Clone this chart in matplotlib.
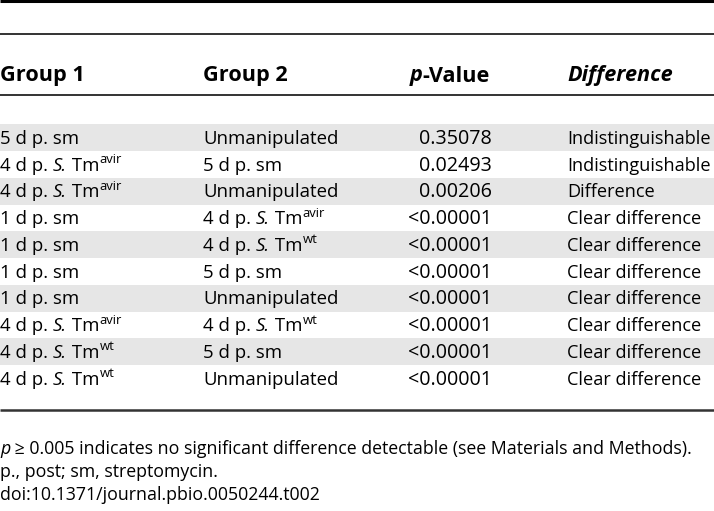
import re
import matplotlib
matplotlib.use("Agg")
import matplotlib.pyplot as plt
from matplotlib import font_manager

# ---------------- data ----------------
group1 = ["5 d p. sm", "4 d p. *S.* Tm^avir", "4 d p. *S.* Tm^avir", "1 d p. sm",
          "1 d p. sm", "1 d p. sm", "1 d p. sm", "4 d p. *S.* Tm^avir",
          "4 d p. *S.* Tm^wt", "4 d p. *S.* Tm^wt"]
group2 = ["Unmanipulated", "5 d p. sm", "Unmanipulated", "4 d p. *S.* Tm^avir",
          "4 d p. *S.* Tm^wt", "5 d p. sm", "Unmanipulated", "4 d p. *S.* Tm^wt",
          "5 d p. sm", "Unmanipulated"]
p_values = ["0.35078", "0.02493", "0.00206", "<0.00001", "<0.00001", "<0.00001",
            "<0.00001", "<0.00001", "<0.00001", "<0.00001"]
differences = ["Indistinguishable", "Indistinguishable", "Difference", "Clear difference",
               "Clear difference", "Clear difference", "Clear difference",
               "Clear difference", "Clear difference", "Clear difference"]
headers = ["Group 1", "Group 2", "*p*-Value", "*Difference*"]
footnotes = ["*p* \u2265 0.005 indicates no significant difference detectable (see Materials and Methods).",
             "p., post; sm, streptomycin.",
             "doi:10.1371/journal.pbio.0050244.t002"]

# ---------------- fonts ----------------
def pick(names):
    for n in names:
        try:
            font_manager.findfont(font_manager.FontProperties(family=n), fallback_to_default=False)
            return n
        except Exception:
            pass
    return "DejaVu Sans"

BODY = pick(["Open Sans", "Noto Sans", "DejaVu Sans"])
NOTE = BODY
BODY_SIZE = 13.4
DIFF_SIZE = 13.1
NUM_SIZE = 14.2
HEAD_SIZE = 15.6
NOTE_SIZE = 12.8

W, H = 714, 511
fig = plt.figure(figsize=(W / 100, H / 100), dpi=100)
ax = fig.add_axes([0, 0, 1, 1])
ax.set_xlim(0, W)
ax.set_ylim(H, 0)
ax.axis("off")
renderer = fig.canvas.get_renderer()


def parse(s):
    """Split string into (text, style) segments; *x* italic, ^word superscript."""
    segs = []
    for tok in re.split(r"(\*[^*]+\*|\^\w+)", s):
        if not tok:
            continue
        if tok.startswith("*"):
            segs.append((tok[1:-1], "it"))
        elif tok.startswith("^"):
            segs.append((tok[1:], "sup"))
        else:
            segs.append((tok, "rm"))
    return segs


def text_width(s, **kw):
    t = ax.text(0, 0, "|" + s + "|", **kw)
    t2 = ax.text(0, 0, "||", **kw)
    w = t.get_window_extent(renderer).width - t2.get_window_extent(renderer).width
    t.remove(); t2.remove()
    return w


def rich(x, y, s, family, size, weight="normal", align="left"):
    segs = parse(s)
    specs = []
    for txt, st in segs:
        kw = dict(family=family, fontsize=size, fontweight=weight,
                  fontstyle="italic" if st == "it" else "normal")
        dy = 0
        if st == "sup":
            kw["fontsize"] = size * 0.7
            dy = -size * 1.389 * 0.40
        specs.append((txt, kw, dy))
    widths = [text_width(t, **kw) for t, kw, _ in specs]
    total = sum(widths)
    cx = x - total if align == "right" else x
    for (txt, kw, dy), w in zip(specs, widths):
        ax.text(cx, y + dy, txt, va="baseline", ha="left", color="black", **kw)
        cx += w


# ---------------- layout ----------------
col_x = [0, 203, 492, 567]
row_top = 124.5
row_h = 26.75
n = len(group1)

for i in range(n):
    if i % 2 == 0:
        ax.axhspan(row_top + i * row_h, row_top + (i + 1) * row_h, color="#e6e6e6", lw=0, zorder=0)

ax.plot([0, W], [0.8, 0.8], color="black", lw=2.2, solid_capstyle="butt")
ax.plot([0, W], [34, 34], color="#111111", lw=1.2, solid_capstyle="butt")
ax.plot([0, W], [95.5, 95.5], color="#111111", lw=1.2, solid_capstyle="butt")
ax.plot([0, W], [410, 410], color="#333333", lw=1.8, solid_capstyle="butt")

hy = 81.5
rich(col_x[0], hy, headers[0], BODY, HEAD_SIZE, weight="bold")
rich(col_x[1], hy, headers[1], BODY, HEAD_SIZE, weight="bold")
rich(col_x[2] - 2, hy, headers[2], BODY, HEAD_SIZE, weight="bold", align="right")
rich(col_x[3], hy, headers[3], BODY, HEAD_SIZE, weight="bold")

for i in range(n):
    by = row_top + i * row_h + row_h / 2 + 6
    rich(col_x[0], by, group1[i], BODY, BODY_SIZE)
    rich(col_x[1], by, group2[i], BODY, BODY_SIZE)
    ax.text(col_x[2], by, p_values[i], family=BODY, fontsize=NUM_SIZE, ha="right", va="baseline")
    rich(col_x[3], by, differences[i], BODY, DIFF_SIZE)

for j, fn in enumerate(footnotes):
    rich(0, 454.5 + j * 22.7, fn, NOTE, NOTE_SIZE)

fig.savefig("out.png", dpi=100)
